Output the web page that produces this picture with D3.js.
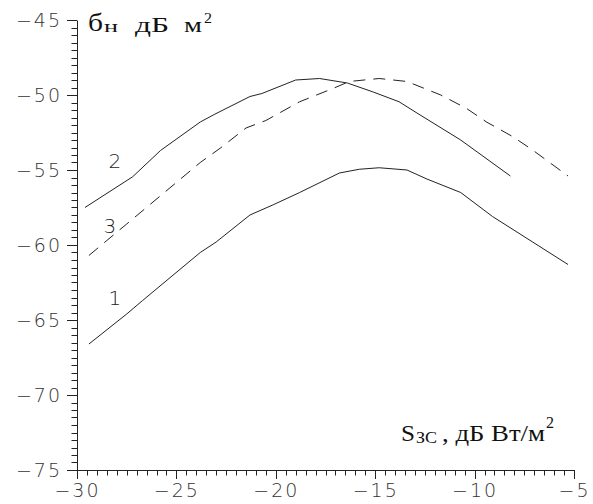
<!DOCTYPE html>
<html>
<head>
<meta charset="utf-8">
<script src="https://cdn.jsdelivr.net/npm/d3@7"></script>
<style>
  html, body { margin: 0; padding: 0; background: #fff; }
  svg { display: block; }
  .tick text { font-family: "DejaVu Sans", sans-serif; font-weight: 200; font-size: 19px; fill: #333; letter-spacing: 2px; }
  .serif { font-family: "Liberation Serif", "DejaVu Serif", serif; fill: #111; }
</style>
</head>
<body>
<script>
"use strict";
// curve 1 (lower solid)
var curve1X = [-29.4, -27.5, -26.7, -23.8, -23.0, -21.3, -20.1, -18.8, -16.8, -15.8, -14.8, -13.4, -12.4, -10.7, -9.1, -5.3];
var curve1Y = [-66.6, -64.6, -63.7, -60.5, -59.8, -58.0, -57.3, -56.5, -55.2, -54.95, -54.85, -55.0, -55.6, -56.5, -58.1, -61.3];
// curve 2 (upper solid)
var curve2X = [-29.6, -27.2, -25.8, -23.8, -23.1, -21.3, -20.7, -19.0, -17.8, -16.4, -15.1, -13.8, -12.9, -10.7, -8.2];
var curve2Y = [-57.5, -55.45, -53.7, -51.8, -51.3, -50.1, -49.9, -49.0, -48.9, -49.2, -49.8, -50.45, -51.2, -53.0, -55.4];
// curve 3 (dashed)
var curve3X = [-29.4, -28.5, -27.5, -23.8, -22.8, -21.5, -20.5, -18.8, -17.1, -16.3, -14.8, -13.4, -11.7, -10.4, -9.4, -8.05, -7.05, -5.3];
var curve3Y = [-60.7, -59.7, -58.6, -54.5, -53.55, -52.2, -51.7, -50.45, -49.55, -49.1, -48.9, -49.1, -50.0, -50.9, -51.8, -52.8, -53.7, -55.4];
var curveLabels = ["1", "2", "3"];
var labelX = [-28.1, -28.1, -28.35];
var labelY = [-63.5, -54.4, -58.7];
var xTicks = [-30, -25, -20, -15, -10, -5];
var yTicks = [-75, -70, -65, -60, -55, -50, -45];

var W = 593, H = 504;
var margin = {left: 77, top: 20, right: 19, bottom: 34};
var svg = d3.select("body").append("svg").attr("width", W).attr("height", H);

var x = d3.scaleLinear().domain([-30, -5]).range([margin.left, W - margin.right]);
var y = d3.scaleLinear().domain([-75, -45]).range([H - margin.bottom, margin.top]);

var fmt = function(d) { return String(d).replace("-", "\u2212"); };

// minor ticks every 0.5
var xMinor = d3.range(-30, -4.99, 0.5);
var yMinor = d3.range(-75, -44.99, 0.5);
var x0 = Math.round(x(-30)) + 0.5, y0 = Math.round(y(-75)) + 0.5;
var minor = svg.append("g");
minor.selectAll("line.mx").data(xMinor).enter().append("line").attr("class", "mx")
  .attr("x1", function(d) { return Math.round(x(d)) + 0.5; })
  .attr("x2", function(d) { return Math.round(x(d)) + 0.5; })
  .attr("y1", y0).attr("y2", y0 + 5);
minor.selectAll("line.my").data(yMinor).enter().append("line").attr("class", "my")
  .attr("y1", function(d) { return Math.round(y(d)) + 0.5; })
  .attr("y2", function(d) { return Math.round(y(d)) + 0.5; })
  .attr("x1", x0 - 6).attr("x2", x0);
minor.selectAll("line").style("stroke", "#222").style("stroke-width", "1px");

var xAxis = svg.append("g").attr("transform", "translate(0," + y(-75) + ")")
  .call(d3.axisBottom(x).tickValues(xTicks).tickFormat(fmt).tickSize(9).tickSizeOuter(0).tickPadding(5));
var yAxis = svg.append("g").attr("transform", "translate(" + x(-30) + ",0)")
  .call(d3.axisLeft(y).tickValues(yTicks).tickFormat(fmt).tickSize(10).tickSizeOuter(0).tickPadding(5));
[xAxis, yAxis].forEach(function(a) {
  a.select(".domain").attr("stroke", "#222").attr("shape-rendering", "crispEdges");
  a.selectAll(".tick line").attr("stroke", "#222").attr("shape-rendering", "crispEdges");
  a.attr("font-family", null).attr("font-size", null);
});

var line = d3.line()
  .x(function(d) { return x(d[0]); })
  .y(function(d) { return y(d[1]); });

var series = [
  {xs: curve1X, ys: curve1Y, dash: null},
  {xs: curve2X, ys: curve2Y, dash: null},
  {xs: curve3X, ys: curve3Y, dash: "12,8"}
];
series.forEach(function(s) {
  var pts = s.xs.map(function(v, i) { return [v, s.ys[i]]; });
  svg.append("path").datum(pts)
    .attr("d", line)
    .attr("fill", "none")
    .attr("stroke", "#222")
    .attr("stroke-width", 1)
    .attr("stroke-dasharray", s.dash);
});

svg.append("g").selectAll("text").data(curveLabels).enter().append("text")
  .attr("x", function(d, i) { return x(labelX[i]); })
  .attr("y", function(d, i) { return y(labelY[i]); })
  .attr("text-anchor", "middle")
  .attr("dominant-baseline", "central")
  .attr("font-family", "DejaVu Sans, sans-serif")
  .attr("font-weight", 200)
  .attr("font-size", 20)
  .attr("fill", "#222")
  .text(function(d) { return d; });

// titles, placed piece by piece
function piece(txt, px, py, size, len) {
  var t = svg.append("text").attr("class", "serif")
    .attr("x", px).attr("y", py).attr("font-size", size).text(txt);
  if (len) { t.attr("textLength", len).attr("lengthAdjust", "spacingAndGlyphs"); }
  return t;
}
// y axis title: б_н дБ м²
piece("\u0431", 88, 31, 26, 15);
piece("\u043d", 104, 32, 17, 14);
piece("\u0434\u0411", 135, 32, 21, 34);
piece("\u043c", 184, 32, 21, 18);
piece("2", 204, 23, 15, 8);

// x axis title: S_ЗС , дБ Вт/м²
piece("S", 401, 441, 23, 14);
piece("\u0417\u0421", 416, 443, 17, 21);
piece(", \u0434\u0411 \u0412\u0442/\u043c", 442, 441, 23, 103);
piece("2", 546, 428, 16, 8);
</script>
</body>
</html>
